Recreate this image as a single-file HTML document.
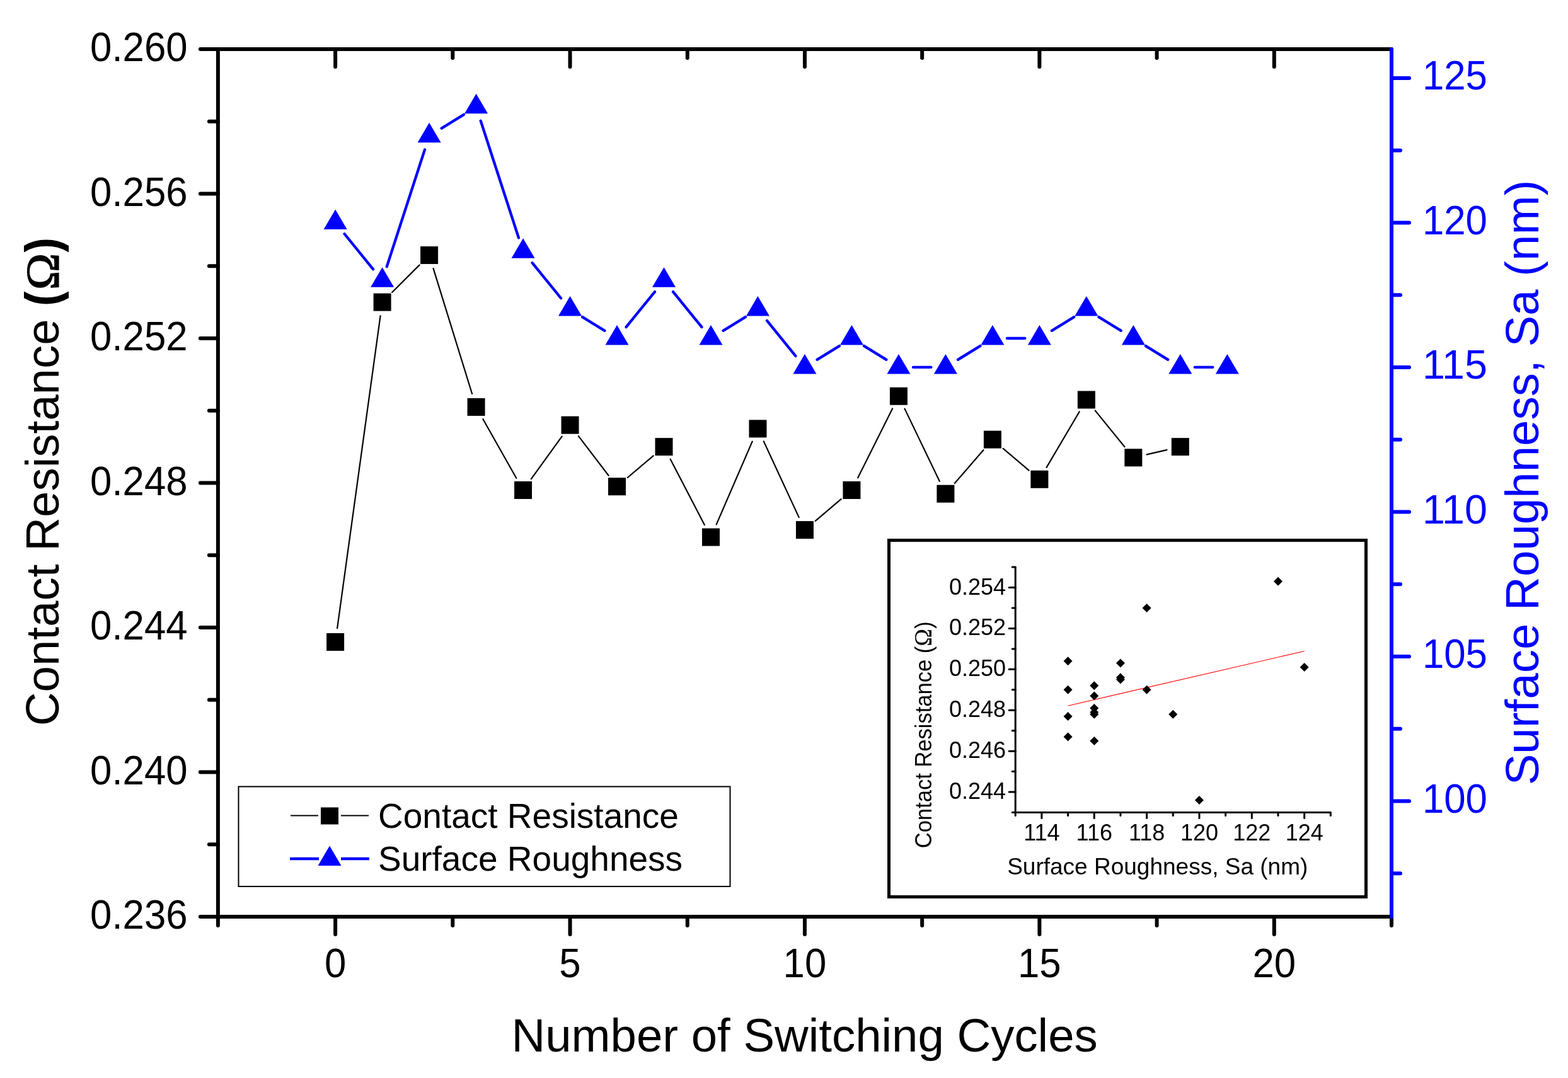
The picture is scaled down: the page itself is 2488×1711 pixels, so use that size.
<!DOCTYPE html>
<html><head><meta charset="utf-8"><title>Contact Resistance vs Switching Cycles</title>
<style>html,body{margin:0;padding:0;background:#fff;}svg{display:block;}</style></head>
<body>
<svg width="2488" height="1711" viewBox="0 0 2488 1711" font-family="'Liberation Sans', Arial, sans-serif">
<line x1="345.90" y1="78.00" x2="2208.00" y2="78.00" stroke="#000" stroke-width="6" stroke-linecap="round"/>
<line x1="532.11" y1="78.00" x2="532.11" y2="106.00" stroke="#000" stroke-width="6" stroke-linecap="round"/>
<line x1="904.53" y1="78.00" x2="904.53" y2="106.00" stroke="#000" stroke-width="6" stroke-linecap="round"/>
<line x1="1276.95" y1="78.00" x2="1276.95" y2="106.00" stroke="#000" stroke-width="6" stroke-linecap="round"/>
<line x1="1649.37" y1="78.00" x2="1649.37" y2="106.00" stroke="#000" stroke-width="6" stroke-linecap="round"/>
<line x1="2021.79" y1="78.00" x2="2021.79" y2="106.00" stroke="#000" stroke-width="6" stroke-linecap="round"/>
<line x1="718.32" y1="78.00" x2="718.32" y2="92.00" stroke="#000" stroke-width="6" stroke-linecap="round"/>
<line x1="1090.74" y1="78.00" x2="1090.74" y2="92.00" stroke="#000" stroke-width="6" stroke-linecap="round"/>
<line x1="1463.16" y1="78.00" x2="1463.16" y2="92.00" stroke="#000" stroke-width="6" stroke-linecap="round"/>
<line x1="1835.58" y1="78.00" x2="1835.58" y2="92.00" stroke="#000" stroke-width="6" stroke-linecap="round"/>
<line x1="345.90" y1="1455.00" x2="2208.00" y2="1455.00" stroke="#000" stroke-width="6" stroke-linecap="round"/>
<line x1="532.11" y1="1455.00" x2="532.11" y2="1483.00" stroke="#000" stroke-width="6" stroke-linecap="round"/>
<line x1="904.53" y1="1455.00" x2="904.53" y2="1483.00" stroke="#000" stroke-width="6" stroke-linecap="round"/>
<line x1="1276.95" y1="1455.00" x2="1276.95" y2="1483.00" stroke="#000" stroke-width="6" stroke-linecap="round"/>
<line x1="1649.37" y1="1455.00" x2="1649.37" y2="1483.00" stroke="#000" stroke-width="6" stroke-linecap="round"/>
<line x1="2021.79" y1="1455.00" x2="2021.79" y2="1483.00" stroke="#000" stroke-width="6" stroke-linecap="round"/>
<line x1="345.90" y1="1455.00" x2="345.90" y2="1469.00" stroke="#000" stroke-width="6" stroke-linecap="round"/>
<line x1="718.32" y1="1455.00" x2="718.32" y2="1469.00" stroke="#000" stroke-width="6" stroke-linecap="round"/>
<line x1="1090.74" y1="1455.00" x2="1090.74" y2="1469.00" stroke="#000" stroke-width="6" stroke-linecap="round"/>
<line x1="1463.16" y1="1455.00" x2="1463.16" y2="1469.00" stroke="#000" stroke-width="6" stroke-linecap="round"/>
<line x1="1835.58" y1="1455.00" x2="1835.58" y2="1469.00" stroke="#000" stroke-width="6" stroke-linecap="round"/>
<line x1="2208.00" y1="1455.00" x2="2208.00" y2="1469.00" stroke="#000" stroke-width="6" stroke-linecap="round"/>
<line x1="2580.42" y1="1455.00" x2="2580.42" y2="1469.00" stroke="#000" stroke-width="6" stroke-linecap="round"/>
<line x1="2952.84" y1="1455.00" x2="2952.84" y2="1469.00" stroke="#000" stroke-width="6" stroke-linecap="round"/>
<line x1="3325.26" y1="1455.00" x2="3325.26" y2="1469.00" stroke="#000" stroke-width="6" stroke-linecap="round"/>
<line x1="3697.68" y1="1455.00" x2="3697.68" y2="1469.00" stroke="#000" stroke-width="6" stroke-linecap="round"/>
<line x1="4070.10" y1="1455.00" x2="4070.10" y2="1469.00" stroke="#000" stroke-width="6" stroke-linecap="round"/>
<line x1="345.90" y1="78.00" x2="345.90" y2="1455.00" stroke="#000" stroke-width="6" stroke-linecap="round"/>
<line x1="345.90" y1="1455.00" x2="317.90" y2="1455.00" stroke="#000" stroke-width="6" stroke-linecap="round"/>
<line x1="345.90" y1="1225.50" x2="317.90" y2="1225.50" stroke="#000" stroke-width="6" stroke-linecap="round"/>
<line x1="345.90" y1="996.00" x2="317.90" y2="996.00" stroke="#000" stroke-width="6" stroke-linecap="round"/>
<line x1="345.90" y1="766.50" x2="317.90" y2="766.50" stroke="#000" stroke-width="6" stroke-linecap="round"/>
<line x1="345.90" y1="537.00" x2="317.90" y2="537.00" stroke="#000" stroke-width="6" stroke-linecap="round"/>
<line x1="345.90" y1="307.50" x2="317.90" y2="307.50" stroke="#000" stroke-width="6" stroke-linecap="round"/>
<line x1="345.90" y1="78.00" x2="317.90" y2="78.00" stroke="#000" stroke-width="6" stroke-linecap="round"/>
<line x1="345.90" y1="1340.25" x2="331.90" y2="1340.25" stroke="#000" stroke-width="6" stroke-linecap="round"/>
<line x1="345.90" y1="1110.75" x2="331.90" y2="1110.75" stroke="#000" stroke-width="6" stroke-linecap="round"/>
<line x1="345.90" y1="881.25" x2="331.90" y2="881.25" stroke="#000" stroke-width="6" stroke-linecap="round"/>
<line x1="345.90" y1="651.75" x2="331.90" y2="651.75" stroke="#000" stroke-width="6" stroke-linecap="round"/>
<line x1="345.90" y1="422.25" x2="331.90" y2="422.25" stroke="#000" stroke-width="6" stroke-linecap="round"/>
<line x1="345.90" y1="192.75" x2="331.90" y2="192.75" stroke="#000" stroke-width="6" stroke-linecap="round"/>
<rect x="378.5" y="1248.5" width="780" height="158.5" fill="none" stroke="#000" stroke-width="2"/>
<path d="M535.12 997.16L603.58 501.42M622.14 464.06L665.53 420.60M687.57 426.06L749.07 624.99M766.38 665.17L819.23 758.82M842.92 760.13L891.66 692.54M917.88 692.18L965.66 754.75M995.80 758.02L1036.71 723.35M1063.64 728.65L1117.84 833.04M1136.72 832.37L1193.73 700.63M1211.72 700.40L1267.70 821.13M1293.73 826.87L1334.65 792.20M1361.26 758.29L1416.09 648.48M1435.45 648.63L1490.87 763.89M1514.80 767.08L1560.49 714.29M1591.67 711.87L1632.59 746.54M1660.55 741.82L1712.67 653.48M1737.72 651.62L1784.48 709.25M1819.77 721.38L1851.39 714.08" stroke="#000" stroke-width="2.2" fill="none" stroke-linecap="round"/>
<rect x="518.11" y="1004.95" width="28" height="28" fill="#000"/>
<rect x="592.59" y="465.63" width="28" height="28" fill="#000"/>
<rect x="667.08" y="391.04" width="28" height="28" fill="#000"/>
<rect x="741.56" y="632.01" width="28" height="28" fill="#000"/>
<rect x="816.05" y="763.98" width="28" height="28" fill="#000"/>
<rect x="890.53" y="660.70" width="28" height="28" fill="#000"/>
<rect x="965.01" y="758.24" width="28" height="28" fill="#000"/>
<rect x="1039.50" y="695.13" width="28" height="28" fill="#000"/>
<rect x="1113.98" y="838.56" width="28" height="28" fill="#000"/>
<rect x="1188.47" y="666.44" width="28" height="28" fill="#000"/>
<rect x="1262.95" y="827.09" width="28" height="28" fill="#000"/>
<rect x="1337.43" y="763.98" width="28" height="28" fill="#000"/>
<rect x="1411.92" y="614.80" width="28" height="28" fill="#000"/>
<rect x="1486.40" y="769.71" width="28" height="28" fill="#000"/>
<rect x="1560.89" y="683.65" width="28" height="28" fill="#000"/>
<rect x="1635.37" y="746.76" width="28" height="28" fill="#000"/>
<rect x="1709.85" y="620.54" width="28" height="28" fill="#000"/>
<rect x="1784.34" y="712.34" width="28" height="28" fill="#000"/>
<rect x="1858.82" y="695.13" width="28" height="28" fill="#000"/>
<line x1="2208.00" y1="78.00" x2="2208.00" y2="1455.00" stroke="#0000ff" stroke-width="6" stroke-linecap="round"/>
<line x1="2208.00" y1="1271.40" x2="2236.00" y2="1271.40" stroke="#0000ff" stroke-width="6" stroke-linecap="round"/>
<line x1="2208.00" y1="1041.90" x2="2236.00" y2="1041.90" stroke="#0000ff" stroke-width="6" stroke-linecap="round"/>
<line x1="2208.00" y1="812.40" x2="2236.00" y2="812.40" stroke="#0000ff" stroke-width="6" stroke-linecap="round"/>
<line x1="2208.00" y1="582.90" x2="2236.00" y2="582.90" stroke="#0000ff" stroke-width="6" stroke-linecap="round"/>
<line x1="2208.00" y1="353.40" x2="2236.00" y2="353.40" stroke="#0000ff" stroke-width="6" stroke-linecap="round"/>
<line x1="2208.00" y1="123.90" x2="2236.00" y2="123.90" stroke="#0000ff" stroke-width="6" stroke-linecap="round"/>
<line x1="2208.00" y1="1386.15" x2="2222.00" y2="1386.15" stroke="#0000ff" stroke-width="6" stroke-linecap="round"/>
<line x1="2208.00" y1="1156.65" x2="2222.00" y2="1156.65" stroke="#0000ff" stroke-width="6" stroke-linecap="round"/>
<line x1="2208.00" y1="927.15" x2="2222.00" y2="927.15" stroke="#0000ff" stroke-width="6" stroke-linecap="round"/>
<line x1="2208.00" y1="697.65" x2="2222.00" y2="697.65" stroke="#0000ff" stroke-width="6" stroke-linecap="round"/>
<line x1="2208.00" y1="468.15" x2="2222.00" y2="468.15" stroke="#0000ff" stroke-width="6" stroke-linecap="round"/>
<line x1="2208.00" y1="238.65" x2="2222.00" y2="238.65" stroke="#0000ff" stroke-width="6" stroke-linecap="round"/>
<path d="M546.60 371.26L592.10 427.34M613.69 423.32L673.98 237.58M700.66 203.63L735.98 181.87M762.66 191.68L822.95 377.42M844.54 417.16L890.04 473.24M924.11 503.17L959.43 524.93M993.51 519.14L1039.01 463.06M1067.99 463.06L1113.49 519.14M1147.56 524.93L1182.89 503.17M1216.96 508.96L1262.46 565.04M1296.53 570.83L1331.85 549.07M1371.01 549.07L1406.34 570.83M1448.92 582.90L1477.40 582.90M1519.98 570.83L1555.31 549.07M1597.89 537.00L1626.37 537.00M1668.95 524.93L1704.27 503.17M1743.43 503.17L1778.76 524.93M1817.92 549.07L1853.24 570.83M1895.82 582.90L1924.31 582.90" stroke="#0000ff" stroke-width="4.3" fill="none" stroke-linecap="round"/>
<path d="M532.11 332.40L550.61 363.90L513.61 363.90Z" fill="#0000ff"/>
<path d="M606.59 424.20L625.09 455.70L588.09 455.70Z" fill="#0000ff"/>
<path d="M681.08 194.70L699.58 226.20L662.58 226.20Z" fill="#0000ff"/>
<path d="M755.56 148.80L774.06 180.30L737.06 180.30Z" fill="#0000ff"/>
<path d="M830.05 378.30L848.55 409.80L811.55 409.80Z" fill="#0000ff"/>
<path d="M904.53 470.10L923.03 501.60L886.03 501.60Z" fill="#0000ff"/>
<path d="M979.01 516.00L997.51 547.50L960.51 547.50Z" fill="#0000ff"/>
<path d="M1053.50 424.20L1072.00 455.70L1035.00 455.70Z" fill="#0000ff"/>
<path d="M1127.98 516.00L1146.48 547.50L1109.48 547.50Z" fill="#0000ff"/>
<path d="M1202.47 470.10L1220.97 501.60L1183.97 501.60Z" fill="#0000ff"/>
<path d="M1276.95 561.90L1295.45 593.40L1258.45 593.40Z" fill="#0000ff"/>
<path d="M1351.43 516.00L1369.93 547.50L1332.93 547.50Z" fill="#0000ff"/>
<path d="M1425.92 561.90L1444.42 593.40L1407.42 593.40Z" fill="#0000ff"/>
<path d="M1500.40 561.90L1518.90 593.40L1481.90 593.40Z" fill="#0000ff"/>
<path d="M1574.89 516.00L1593.39 547.50L1556.39 547.50Z" fill="#0000ff"/>
<path d="M1649.37 516.00L1667.87 547.50L1630.87 547.50Z" fill="#0000ff"/>
<path d="M1723.85 470.10L1742.35 501.60L1705.35 501.60Z" fill="#0000ff"/>
<path d="M1798.34 516.00L1816.84 547.50L1779.84 547.50Z" fill="#0000ff"/>
<path d="M1872.82 561.90L1891.32 593.40L1854.32 593.40Z" fill="#0000ff"/>
<path d="M1947.31 561.90L1965.81 593.40L1928.81 593.40Z" fill="#0000ff"/>
<line x1="461.00" y1="1294.60" x2="505.00" y2="1294.60" stroke="#000" stroke-width="2" stroke-linecap="butt"/>
<line x1="541.00" y1="1294.60" x2="585.00" y2="1294.60" stroke="#000" stroke-width="2" stroke-linecap="butt"/>
<rect x="509" y="1281.5" width="28" height="27" fill="#000"/>
<line x1="460.00" y1="1363.00" x2="506.00" y2="1363.00" stroke="#0000ff" stroke-width="4.5" stroke-linecap="butt"/>
<line x1="541.00" y1="1363.00" x2="586.00" y2="1363.00" stroke="#0000ff" stroke-width="4.5" stroke-linecap="butt"/>
<path d="M523.00 1342.50L541.50 1374.00L504.50 1374.00Z" fill="#0000ff"/>
<text x="297.60" y="1474.00" font-size="64" text-anchor="end" fill="#000" textLength="154.55" lengthAdjust="spacingAndGlyphs" >0.236</text>
<text x="297.60" y="1244.50" font-size="64" text-anchor="end" fill="#000" textLength="154.55" lengthAdjust="spacingAndGlyphs" >0.240</text>
<text x="297.60" y="1015.00" font-size="64" text-anchor="end" fill="#000" textLength="154.55" lengthAdjust="spacingAndGlyphs" >0.244</text>
<text x="297.60" y="785.50" font-size="64" text-anchor="end" fill="#000" textLength="154.55" lengthAdjust="spacingAndGlyphs" >0.248</text>
<text x="297.60" y="556.00" font-size="64" text-anchor="end" fill="#000" textLength="154.55" lengthAdjust="spacingAndGlyphs" >0.252</text>
<text x="297.60" y="326.50" font-size="64" text-anchor="end" fill="#000" textLength="154.55" lengthAdjust="spacingAndGlyphs" >0.256</text>
<text x="297.60" y="97.00" font-size="64" text-anchor="end" fill="#000" textLength="154.55" lengthAdjust="spacingAndGlyphs" >0.260</text>
<text x="532.11" y="1551.20" font-size="64" text-anchor="middle" fill="#000" textLength="34.35" lengthAdjust="spacingAndGlyphs" >0</text>
<text x="904.53" y="1551.20" font-size="64" text-anchor="middle" fill="#000" textLength="34.35" lengthAdjust="spacingAndGlyphs" >5</text>
<text x="1276.95" y="1551.20" font-size="64" text-anchor="middle" fill="#000" textLength="68.70" lengthAdjust="spacingAndGlyphs" >10</text>
<text x="1649.37" y="1551.20" font-size="64" text-anchor="middle" fill="#000" textLength="68.70" lengthAdjust="spacingAndGlyphs" >15</text>
<text x="2021.79" y="1551.20" font-size="64" text-anchor="middle" fill="#000" textLength="68.70" lengthAdjust="spacingAndGlyphs" >20</text>
<text x="2256.90" y="1289.90" font-size="64" text-anchor="start" fill="#0000ff" textLength="103.04" lengthAdjust="spacingAndGlyphs" >100</text>
<text x="2256.90" y="1060.40" font-size="64" text-anchor="start" fill="#0000ff" textLength="103.04" lengthAdjust="spacingAndGlyphs" >105</text>
<text x="2256.90" y="830.90" font-size="64" text-anchor="start" fill="#0000ff" textLength="103.04" lengthAdjust="spacingAndGlyphs" >110</text>
<text x="2256.90" y="601.40" font-size="64" text-anchor="start" fill="#0000ff" textLength="103.04" lengthAdjust="spacingAndGlyphs" >115</text>
<text x="2256.90" y="371.90" font-size="64" text-anchor="start" fill="#0000ff" textLength="103.04" lengthAdjust="spacingAndGlyphs" >120</text>
<text x="2256.90" y="142.40" font-size="64" text-anchor="start" fill="#0000ff" textLength="103.04" lengthAdjust="spacingAndGlyphs" >125</text>
<text x="1276.60" y="1669.00" font-size="74.4" text-anchor="middle" fill="#000" >Number of Switching Cycles</text>
<g transform="translate(92.5,0) rotate(-90)" fill="#000"><text x="-1152.3" y="0" font-size="74.5">Contact Resistance</text><text transform="translate(-484.7,0) scale(0.85,1)" font-size="73.3" font-weight="bold" stroke="#000" stroke-width="2">(</text><text transform="translate(-460.2,0) scale(1.06,1)" font-size="74.5" stroke="#000" stroke-width="1.2" font-family="'Liberation Serif', serif">Ω</text><text transform="translate(-398.9,0) scale(0.85,1)" font-size="73.3" font-weight="bold" stroke="#000" stroke-width="2">)</text></g>
<text transform="translate(2441,766) rotate(-90)" font-size="74.5" text-anchor="middle" fill="#0000ff">Surface Roughness, Sa (nm)</text>
<text x="600.00" y="1313.50" font-size="55" text-anchor="start" fill="#000" >Contact Resistance</text>
<text x="600.00" y="1381.50" font-size="55" text-anchor="start" fill="#000" >Surface Roughness</text>
<rect x="1410.5" y="857.5" width="757" height="566" fill="#fff" stroke="#000" stroke-width="5"/>
<line x1="1611.20" y1="900.10" x2="1611.20" y2="1289.50" stroke="#000" stroke-width="3" stroke-linecap="butt"/>
<line x1="1611.20" y1="1289.50" x2="2111.36" y2="1289.50" stroke="#000" stroke-width="3" stroke-linecap="butt"/>
<line x1="1611.20" y1="1257.05" x2="1601.20" y2="1257.05" stroke="#000" stroke-width="3" stroke-linecap="round"/>
<line x1="1611.20" y1="1192.15" x2="1601.20" y2="1192.15" stroke="#000" stroke-width="3" stroke-linecap="round"/>
<line x1="1611.20" y1="1127.25" x2="1601.20" y2="1127.25" stroke="#000" stroke-width="3" stroke-linecap="round"/>
<line x1="1611.20" y1="1062.35" x2="1601.20" y2="1062.35" stroke="#000" stroke-width="3" stroke-linecap="round"/>
<line x1="1611.20" y1="997.45" x2="1601.20" y2="997.45" stroke="#000" stroke-width="3" stroke-linecap="round"/>
<line x1="1611.20" y1="932.55" x2="1601.20" y2="932.55" stroke="#000" stroke-width="3" stroke-linecap="round"/>
<line x1="1611.20" y1="1289.50" x2="1606.20" y2="1289.50" stroke="#000" stroke-width="3" stroke-linecap="round"/>
<line x1="1611.20" y1="1224.60" x2="1606.20" y2="1224.60" stroke="#000" stroke-width="3" stroke-linecap="round"/>
<line x1="1611.20" y1="1159.70" x2="1606.20" y2="1159.70" stroke="#000" stroke-width="3" stroke-linecap="round"/>
<line x1="1611.20" y1="1094.80" x2="1606.20" y2="1094.80" stroke="#000" stroke-width="3" stroke-linecap="round"/>
<line x1="1611.20" y1="1029.90" x2="1606.20" y2="1029.90" stroke="#000" stroke-width="3" stroke-linecap="round"/>
<line x1="1611.20" y1="965.00" x2="1606.20" y2="965.00" stroke="#000" stroke-width="3" stroke-linecap="round"/>
<line x1="1611.20" y1="900.10" x2="1606.20" y2="900.10" stroke="#000" stroke-width="3" stroke-linecap="round"/>
<line x1="1652.88" y1="1289.50" x2="1652.88" y2="1298.50" stroke="#000" stroke-width="3" stroke-linecap="round"/>
<line x1="1736.24" y1="1289.50" x2="1736.24" y2="1298.50" stroke="#000" stroke-width="3" stroke-linecap="round"/>
<line x1="1819.60" y1="1289.50" x2="1819.60" y2="1298.50" stroke="#000" stroke-width="3" stroke-linecap="round"/>
<line x1="1902.96" y1="1289.50" x2="1902.96" y2="1298.50" stroke="#000" stroke-width="3" stroke-linecap="round"/>
<line x1="1986.32" y1="1289.50" x2="1986.32" y2="1298.50" stroke="#000" stroke-width="3" stroke-linecap="round"/>
<line x1="2069.68" y1="1289.50" x2="2069.68" y2="1298.50" stroke="#000" stroke-width="3" stroke-linecap="round"/>
<line x1="1611.20" y1="1289.50" x2="1611.20" y2="1294.50" stroke="#000" stroke-width="3" stroke-linecap="round"/>
<line x1="1694.56" y1="1289.50" x2="1694.56" y2="1294.50" stroke="#000" stroke-width="3" stroke-linecap="round"/>
<line x1="1777.92" y1="1289.50" x2="1777.92" y2="1294.50" stroke="#000" stroke-width="3" stroke-linecap="round"/>
<line x1="1861.28" y1="1289.50" x2="1861.28" y2="1294.50" stroke="#000" stroke-width="3" stroke-linecap="round"/>
<line x1="1944.64" y1="1289.50" x2="1944.64" y2="1294.50" stroke="#000" stroke-width="3" stroke-linecap="round"/>
<line x1="2028.00" y1="1289.50" x2="2028.00" y2="1294.50" stroke="#000" stroke-width="3" stroke-linecap="round"/>
<line x1="2111.36" y1="1289.50" x2="2111.36" y2="1294.50" stroke="#000" stroke-width="3" stroke-linecap="round"/>
<text x="1596.00" y="1268.05" font-size="36" text-anchor="end" fill="#000" >0.244</text>
<text x="1596.00" y="1203.15" font-size="36" text-anchor="end" fill="#000" >0.246</text>
<text x="1596.00" y="1138.25" font-size="36" text-anchor="end" fill="#000" >0.248</text>
<text x="1596.00" y="1073.35" font-size="36" text-anchor="end" fill="#000" >0.250</text>
<text x="1596.00" y="1008.45" font-size="36" text-anchor="end" fill="#000" >0.252</text>
<text x="1596.00" y="943.55" font-size="36" text-anchor="end" fill="#000" >0.254</text>
<text x="1652.88" y="1334.00" font-size="36" text-anchor="middle" fill="#000" >114</text>
<text x="1736.24" y="1334.00" font-size="36" text-anchor="middle" fill="#000" >116</text>
<text x="1819.60" y="1334.00" font-size="36" text-anchor="middle" fill="#000" >118</text>
<text x="1902.96" y="1334.00" font-size="36" text-anchor="middle" fill="#000" >120</text>
<text x="1986.32" y="1334.00" font-size="36" text-anchor="middle" fill="#000" >122</text>
<text x="2069.68" y="1334.00" font-size="36" text-anchor="middle" fill="#000" >124</text>
<text x="1836.75" y="1387.70" font-size="37" text-anchor="middle" fill="#000" >Surface Roughness, Sa (nm)</text>
<text transform="translate(1477.5,1166.3) rotate(-90)" font-size="36" text-anchor="middle" fill="#000" textLength="360" lengthAdjust="spacingAndGlyphs">Contact Resistance (<tspan font-family="'Liberation Serif', serif" font-size="39">Ω</tspan>)</text>
<line x1="1694.56" y1="1120.19" x2="2069.68" y2="1033.46" stroke="#ff0000" stroke-width="1.1"/>
<path d="M1902.96 1263.03L1909.96 1270.03L1902.96 1277.03L1895.96 1270.03Z" fill="#000"/>
<path d="M1819.60 958.00L1826.60 965.00L1819.60 972.00L1812.60 965.00Z" fill="#000"/>
<path d="M2028.00 915.81L2035.00 922.81L2028.00 929.81L2021.00 922.81Z" fill="#000"/>
<path d="M2069.68 1052.11L2076.68 1059.11L2069.68 1066.11L2062.68 1059.11Z" fill="#000"/>
<path d="M1861.28 1126.74L1868.28 1133.74L1861.28 1140.74L1854.28 1133.74Z" fill="#000"/>
<path d="M1777.92 1068.33L1784.92 1075.33L1777.92 1082.33L1770.92 1075.33Z" fill="#000"/>
<path d="M1736.24 1123.49L1743.24 1130.49L1736.24 1137.49L1729.24 1130.49Z" fill="#000"/>
<path d="M1819.60 1087.80L1826.60 1094.80L1819.60 1101.80L1812.60 1094.80Z" fill="#000"/>
<path d="M1736.24 1168.92L1743.24 1175.92L1736.24 1182.92L1729.24 1175.92Z" fill="#000"/>
<path d="M1777.92 1071.57L1784.92 1078.57L1777.92 1085.57L1770.92 1078.57Z" fill="#000"/>
<path d="M1694.56 1162.43L1701.56 1169.43L1694.56 1176.43L1687.56 1169.43Z" fill="#000"/>
<path d="M1736.24 1126.74L1743.24 1133.74L1736.24 1140.74L1729.24 1133.74Z" fill="#000"/>
<path d="M1694.56 1042.37L1701.56 1049.37L1694.56 1056.37L1687.56 1049.37Z" fill="#000"/>
<path d="M1694.56 1129.98L1701.56 1136.98L1694.56 1143.98L1687.56 1136.98Z" fill="#000"/>
<path d="M1736.24 1081.31L1743.24 1088.31L1736.24 1095.31L1729.24 1088.31Z" fill="#000"/>
<path d="M1736.24 1117.01L1743.24 1124.01L1736.24 1131.01L1729.24 1124.01Z" fill="#000"/>
<path d="M1777.92 1045.61L1784.92 1052.61L1777.92 1059.61L1770.92 1052.61Z" fill="#000"/>
<path d="M1736.24 1097.53L1743.24 1104.53L1736.24 1111.53L1729.24 1104.53Z" fill="#000"/>
<path d="M1694.56 1087.80L1701.56 1094.80L1694.56 1101.80L1687.56 1094.80Z" fill="#000"/>
</svg>
</body></html>
